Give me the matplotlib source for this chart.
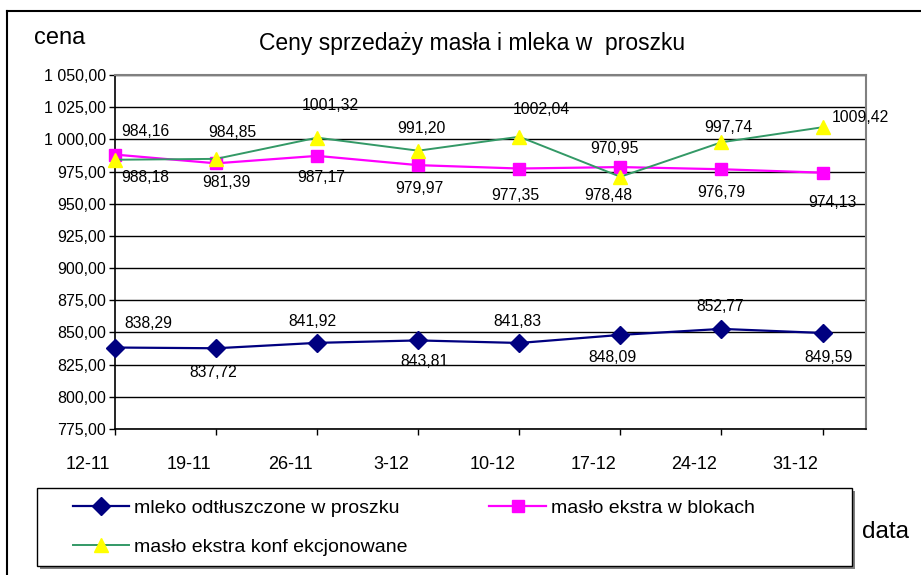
import matplotlib
matplotlib.use("Agg")
import matplotlib.pyplot as plt
from matplotlib.lines import Line2D
from matplotlib.patches import Rectangle
from matplotlib.ticker import FuncFormatter, MultipleLocator
from matplotlib.transforms import ScaledTranslation

plt.rcParams['font.family'] = ['Liberation Sans', 'DejaVu Sans']

# ---- data ----
dates = ["12-11", "19-11", "26-11", "3-12", "10-12", "17-12", "24-12", "31-12"]
mleko = [838.29, 837.72, 841.92, 843.81, 841.83, 848.09, 852.77, 849.59]
bloki = [988.18, 981.39, 987.17, 979.97, 977.35, 978.48, 976.79, 974.13]
konf = [984.16, 984.85, 1001.32, 991.20, 1002.04, 970.95, 997.74, 1009.42]

name_mleko = "mleko odtłuszczone w proszku"
name_bloki = "masło ekstra w blokach"
name_konf = "masło ekstra konf ekcjonowane"
title = "Ceny sprzedaży masła i mleka w  proszku"

# label offsets in pixels (style)
off_konf = [(30, 28), (16, 26), (13, 32), (3, 22), (22, 27), (-6, 28), (7, 15), (38, 10)]
off_bloki = [(30, -23), (10, -19), (4, -22), (1, -23), (-4, -27), (-12, -28), (0, -23), (10, -30)]
off_mleko = [(33, 24), (-3, -24), (-5, 21), (6, -21), (-2, 21), (-8, -23), (-1, 22), (6, -25)]

W, H = 921, 575
fig = plt.figure(figsize=(W / 100, H / 100), dpi=100)
fig.patch.set_facecolor('white')

ax = fig.add_axes([115 / W, 1 - 429 / H, 751 / W, 354 / H])
x = list(range(len(dates)))

l1, = ax.plot(x, mleko, color='#000080', lw=1.6, marker='D', ms=9,
              mfc='#000080', mec='#000080', clip_on=False, zorder=5)
l2, = ax.plot(x, bloki, color='#FF00FF', lw=1.6, marker='s', ms=8,
              mfc='#FF00FF', mec='#FF00FF', clip_on=False, zorder=5)
l3, = ax.plot(x, konf, color='#339966', lw=1.4, marker='^', ms=10,
              mfc='#FFFF00', mec='#FFFF00', clip_on=False, zorder=6)

def fmt_lab(v):
    return f"{v:.2f}".replace('.', ',')

for series, offs in ((konf, off_konf), (bloki, off_bloki), (mleko, off_mleko)):
    for xi, v, (dx, dy) in zip(x, series, offs):
        ax.annotate(fmt_lab(v), (xi, v), xytext=(dx, dy), textcoords='offset pixels',
                    ha='center', va='center', fontsize=11.3, color='black',
                    annotation_clip=False, zorder=7)

ax.set_xlim(0, 7.43)
ax.set_ylim(775, 1050)
ax.yaxis.set_major_locator(MultipleLocator(25))

def yfmt(v, pos):
    return f"{v:,.2f}".replace(',', ' ').replace('.', ',')

ax.yaxis.set_major_formatter(FuncFormatter(yfmt))
ax.set_xticks(x)
ax.set_xticklabels(dates)
ax.tick_params(axis='y', direction='out', length=4.5, width=1, pad=2, labelsize=11.5, colors='black')
ax.tick_params(axis='x', direction='out', length=4.5, width=1, pad=15, labelsize=13, colors='black')
shift = ScaledTranslation(-27 / 100, 0, fig.dpi_scale_trans)
for lab in ax.get_xticklabels():
    lab.set_transform(lab.get_transform() + shift)

ax.grid(axis='y', color='black', lw=1)
ax.set_axisbelow(True)
for s in ('left', 'bottom'):
    ax.spines[s].set_color('black')
    ax.spines[s].set_linewidth(1.2)
for s in ('top', 'right'):
    ax.spines[s].set_color('#808080')
    ax.spines[s].set_linewidth(1.5)
ax.spines['top'].set_zorder(3)

# figure frame (partially visible)
fig.add_artist(Line2D([7 / W, 7 / W], [0, 1 - 11 / H], color='black', lw=1.5))
fig.add_artist(Line2D([7 / W, 1], [1 - 11 / H, 1 - 11 / H], color='black', lw=1.5))

# texts
fig.text(472 / W, 1 - 50 / H, title, ha='center', va='baseline', fontsize=16.5)
fig.text(34 / W, 1 - 44 / H, "cena", ha='left', va='baseline', fontsize=17)
fig.text(862 / W, 1 - 538 / H, "data", ha='left', va='baseline', fontsize=17.5)

# legend box with shadow
fig.add_artist(Rectangle((40 / W, 1 - 569 / H), 815 / W, 78 / H, transform=fig.transFigure,
                         facecolor='#808080', edgecolor='none', zorder=1))
fig.add_artist(Rectangle((37 / W, 1 - 566 / H), 815 / W, 78 / H, transform=fig.transFigure,
                         facecolor='white', edgecolor='black', lw=1, zorder=2))

leg = fig.legend([l1, l3, l2], [name_mleko, name_konf, name_bloki], ncol=2,
                 loc='upper left', bbox_to_anchor=(73 / W, 1 - 499 / H),
                 frameon=False, fontsize=14, handlelength=2.9, handletextpad=0.25,
                 columnspacing=4.2, labelspacing=1.1, borderpad=0, borderaxespad=0)
leg.set_zorder(3)

fig.savefig("out.png", dpi=100)
